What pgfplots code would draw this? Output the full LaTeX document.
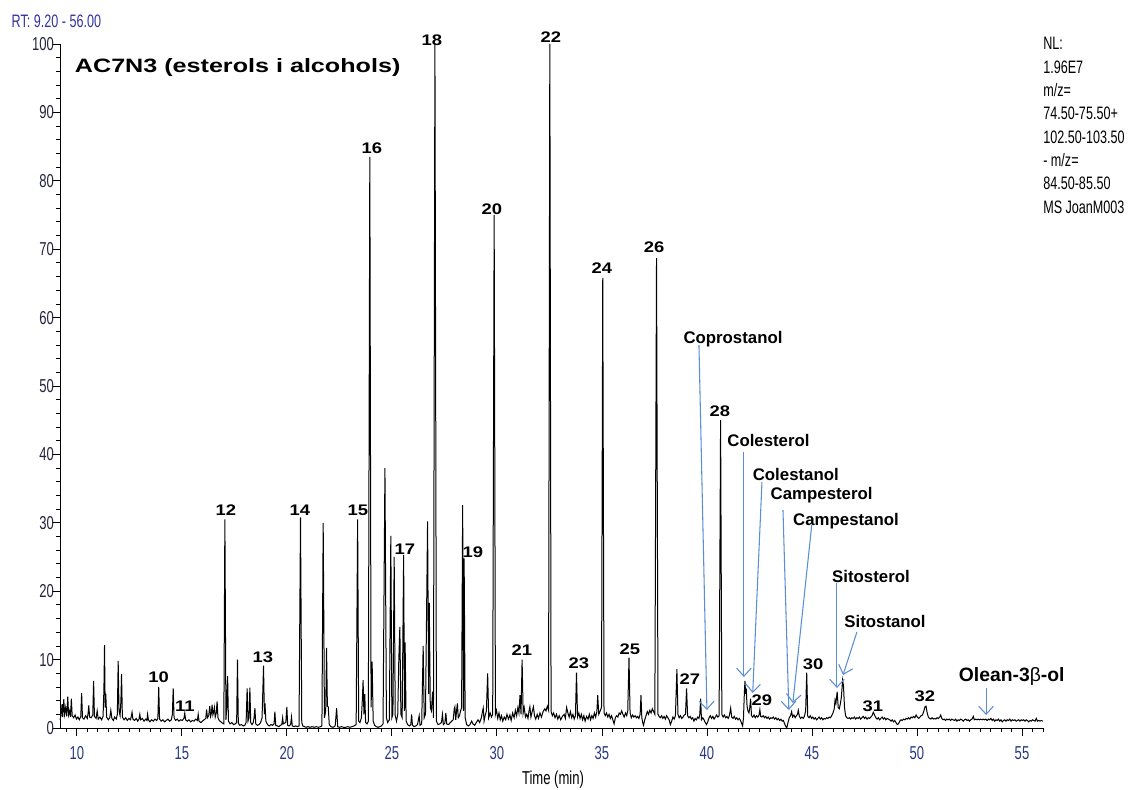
\documentclass[border=0pt]{standalone}
\usepackage{fontspec}
\setmainfont{Liberation Sans}
\newfontfamily\narrowf[FakeStretch=0.70]{Liberation Sans}
\newfontfamily\widef[FakeStretch=1.2]{Liberation Sans}
\newfontfamily\titlef[FakeStretch=1.3]{Liberation Sans}
\usepackage{pgfplots}
\pgfplotsset{compat=1.18}
\usetikzlibrary{arrows.meta}
\definecolor{arrowblue}{RGB}{91,142,214}
\definecolor{ticknavy}{RGB}{40,55,130}
\definecolor{rtblue}{RGB}{50,50,160}
\definecolor{ytk}{RGB}{35,35,60}
\newcommand\numf{\widef\bfseries\fontsize{11.5}{11.5}\selectfont}
\newcommand\namef{\bfseries\fontsize{12.6}{12.6}\selectfont}
\begin{document}
\begin{tikzpicture}[num/.style={font=\numf, inner sep=0pt}, nm/.style={font=\namef, inner sep=0pt}]
\useasboundingbox (-45pt,-45.75pt) rectangle (803.25pt,546pt);
\begin{axis}[scale only axis, width=737.25pt, height=513pt,
  xmin=9.2, xmax=56, ymin=0, ymax=100,
  axis x line*=bottom, axis y line*=left,
  axis line style={-, line width=0.75pt, black},
  xtick={10,15,...,55}, ytick={0,10,...,100},
  minor xtick={9.5,10,...,56}, minor ytick={0,2,...,100},
  tick align=outside, major tick length=6pt, minor tick length=3pt,
  tick style={black, line width=0.6pt},
  clip=false,
  /pgf/number format/assume math mode=true,
  xticklabel style={font=\narrowf\fontsize{14}{14}\selectfont, text=ticknavy, yshift=-4.5pt},
  yticklabel style={font=\narrowf\fontsize{14}{14}\selectfont, text=ytk, xshift=5pt},
]
\addplot[black, line width=0.75pt, mark=none] coordinates {
(9.20,1.2) (9.25,1.8) (9.30,3.5) (9.33,1.6) (9.38,4.2) (9.42,2.0) (9.47,3.0) (9.52,1.7) (9.57,4.6) (9.61,1.9) (9.66,2.5) (9.70,1.6) (9.74,4.3) (9.78,1.8) (9.85,1.5) (9.92,1.9) (9.98,1.3)
(10.05,1.6) (10.12,1.2) (10.19,1.7) (10.23,5.1) (10.27,1.5) (10.34,1.3) (10.42,1.8) (10.50,1.4) (10.54,2.2) (10.57,3.3) (10.61,1.6) (10.68,1.5) (10.76,1.9) (10.80,6.9) (10.84,1.7) (10.92,1.4) (10.97,2.5)
(11.02,1.3) (11.10,1.6) (11.18,1.2) (11.25,1.7) (11.29,5.5) (11.32,12.1) (11.35,3.0) (11.38,5.0) (11.42,1.6) (11.50,1.2) (11.57,1.5) (11.62,2.6) (11.67,1.4) (11.74,1.1) (11.80,1.6) (11.88,1.3) (11.93,2.0) (11.97,9.8)
(12.01,2.5) (12.06,1.8) (12.10,4.0) (12.13,7.9) (12.17,1.6) (12.25,1.2) (12.33,1.5) (12.40,1.1) (12.48,1.4) (12.56,1.2) (12.60,1.8) (12.63,2.3) (12.67,1.3) (12.75,1.1) (12.83,1.4) (12.90,1.0) (12.96,1.3)
(13.00,2.0) (13.04,1.2) (13.12,1.4) (13.20,1.0) (13.28,1.3) (13.34,1.1) (13.37,2.0) (13.41,1.2) (13.48,0.9) (13.56,1.2) (13.64,1.0) (13.72,1.3) (13.80,1.1) (13.86,1.4) (13.90,6.0) (13.94,1.3)
(14.02,1.0) (14.10,1.2) (14.18,0.9) (14.26,1.1) (14.34,1.3) (14.42,1.0) (14.50,1.2) (14.55,2.0) (14.59,5.8) (14.63,1.5) (14.70,1.1) (14.78,1.3) (14.86,1.0) (14.94,1.2)
(15.02,1.1) (15.10,1.4) (15.14,2.2) (15.18,1.2) (15.26,1.0) (15.34,1.2) (15.42,0.9) (15.50,1.1) (15.58,1.0) (15.66,1.3) (15.74,1.1) (15.78,2.0) (15.82,1.0) (15.90,0.8) (15.98,1.0)
(16.06,1.2) (16.14,1.4) (16.18,2.7) (16.22,1.5) (16.28,1.8) (16.33,3.2) (16.37,1.7) (16.41,2.2) (16.44,3.4) (16.48,1.9) (16.52,2.4) (16.55,3.0) (16.59,1.6) (16.64,2.2) (16.68,3.9) (16.72,1.5) (16.78,1.1) (16.86,0.9) (16.94,0.7)
(17.00,0.6) (17.05,30.5) (17.10,1.2) (17.14,3.0) (17.18,7.6) (17.22,1.0) (17.30,0.6) (17.38,0.8) (17.46,0.5) (17.54,0.6) (17.61,0.8) (17.65,10.0) (17.69,0.7) (17.76,0.4) (17.84,0.5) (17.92,0.3)
(18.00,0.4) (18.06,0.8) (18.11,5.8) (18.15,1.0) (18.20,1.5) (18.24,5.9) (18.28,0.8) (18.34,0.5) (18.40,0.8) (18.44,1.5) (18.48,2.9) (18.52,0.6) (18.60,0.4) (18.68,0.5) (18.75,0.8) (18.82,1.5) (18.89,9.1) (18.93,2.0) (18.96,3.6)
(19.00,1.0) (19.08,0.5) (19.16,0.3) (19.24,0.5) (19.32,0.4) (19.39,0.6) (19.43,2.4) (19.47,0.4) (19.55,0.3) (19.62,0.2) (19.70,0.4) (19.76,0.5) (19.80,1.5) (19.83,0.6) (19.88,0.7) (19.95,0.8)
(20.00,3.1) (20.04,0.4) (20.10,0.3) (20.18,0.5) (20.22,1.6) (20.26,0.3) (20.34,0.2) (20.42,0.3) (20.50,0.2) (20.58,0.3) (20.65,30.8) (20.71,0.8) (20.76,0.3) (20.84,0.2) (20.92,0.1)
(21.00,0.2) (21.10,0.1) (21.20,0.2) (21.30,0.1) (21.40,0.2) (21.50,0.1) (21.60,0.2) (21.67,0.3) (21.73,30.0) (21.79,1.5) (21.85,2.5) (21.89,11.7) (21.93,3.2) (21.97,3.1)
(22.02,0.5) (22.10,0.2) (22.20,0.1) (22.30,0.3) (22.37,2.9) (22.42,0.2) (22.50,0.1) (22.60,0.2) (22.70,0.1) (22.80,0.1) (22.90,0.2)
(23.00,0.1) (23.10,0.2) (23.20,0.3) (23.30,0.5) (23.37,30.5) (23.42,1.0) (23.48,0.8) (23.55,1.5) (23.60,4.5) (23.63,7.0) (23.67,2.0) (23.71,5.0) (23.75,0.8) (23.82,0.6) (23.88,1.0) (23.95,83.5)
(24.01,3.0) (24.06,9.7) (24.11,1.0) (24.18,0.4) (24.26,0.2) (24.34,0.1) (24.42,0.2) (24.50,0.3) (24.58,0.6) (24.67,38.0) (24.74,1.5) (24.80,0.8) (24.88,1.2) (24.95,28.1)
(25.00,1.5) (25.05,2.0) (25.11,25.0) (25.16,1.8) (25.22,1.0) (25.28,2.0) (25.33,10.0) (25.38,14.8) (25.43,2.0) (25.49,1.5) (25.56,25.3) (25.60,2.5) (25.63,12.5) (25.68,1.0) (25.75,0.5) (25.84,0.3) (25.90,0.5) (25.94,2.0) (25.98,0.4)
(26.06,0.2) (26.14,0.3) (26.22,0.5) (26.30,1.8) (26.34,0.4) (26.42,0.6) (26.49,12.0) (26.54,1.5) (26.60,2.0) (26.70,30.2) (26.75,5.0) (26.78,18.3) (26.83,3.0) (26.88,2.5) (26.94,5.3) (26.98,1.5)
(27.05,100) (27.12,1.0) (27.20,0.5) (27.28,0.6) (27.36,0.8) (27.41,2.0) (27.45,0.5) (27.52,0.7) (27.57,2.2) (27.61,0.6) (27.70,0.5) (27.78,0.8) (27.85,1.0) (27.92,1.2) (27.97,2.8)
(28.00,3.1) (28.04,1.2) (28.08,2.5) (28.12,3.6) (28.16,1.5) (28.22,1.8) (28.27,2.5) (28.32,3.0) (28.37,32.6) (28.41,2.5) (28.44,24.8) (28.49,1.5) (28.56,0.5) (28.64,0.3) (28.72,0.5) (28.80,1.0) (28.86,0.6) (28.94,0.4)
(29.02,0.8) (29.10,1.2) (29.18,0.8) (29.26,1.5) (29.30,2.2) (29.35,2.9) (29.39,1.0) (29.44,1.8) (29.50,2.5) (29.56,8.0) (29.61,1.5) (29.68,2.2) (29.74,1.6) (29.80,2.0) (29.87,75.0) (29.93,2.0) (29.98,2.6)
(30.04,1.4) (30.10,2.2) (30.16,1.2) (30.22,1.8) (30.28,1.0) (30.35,1.6) (30.42,1.2) (30.48,2.0) (30.55,1.3) (30.62,1.9) (30.68,1.1) (30.75,2.2) (30.82,1.5) (30.88,2.6) (30.94,1.8)
(31.00,3.0) (31.05,2.2) (31.10,4.8) (31.15,2.0) (31.20,10.0) (31.25,2.2) (31.30,3.0) (31.36,1.6) (31.42,2.0) (31.48,1.4) (31.53,2.5) (31.57,3.1) (31.62,1.6) (31.68,2.4) (31.74,3.1) (31.79,1.8) (31.85,1.3) (31.92,2.0) (31.98,1.4)
(32.05,2.2) (32.12,1.6) (32.20,2.4) (32.28,2.8) (32.34,2.5) (32.40,3.2) (32.46,2.6) (32.52,100) (32.58,2.4) (32.64,1.8) (32.70,2.2) (32.77,1.5) (32.84,2.0) (32.90,1.3) (32.97,1.8)
(33.04,1.2) (33.12,1.7) (33.20,2.0) (33.26,1.4) (33.32,3.0) (33.38,2.2) (33.44,1.6) (33.50,2.4) (33.56,1.5) (33.62,2.0) (33.68,1.3) (33.74,1.8) (33.79,8.1) (33.84,1.6) (33.90,2.2) (33.96,1.4)
(34.02,2.0) (34.08,1.2) (34.14,1.8) (34.20,1.0) (34.27,1.7) (34.34,1.3) (34.40,2.0) (34.46,1.2) (34.52,1.8) (34.58,1.4) (34.64,2.2) (34.70,1.6) (34.76,2.4) (34.80,4.8) (34.85,2.0) (34.92,2.5) (34.98,3.0)
(35.04,65.8) (35.10,2.2) (35.16,1.8) (35.22,2.2) (35.28,1.6) (35.34,2.0) (35.40,1.4) (35.46,1.8) (35.52,1.2) (35.58,0.6) (35.64,1.5) (35.70,1.8) (35.76,1.6) (35.82,2.2) (35.88,2.0) (35.94,2.5)
(36.00,2.0) (36.06,1.6) (36.12,2.2) (36.18,1.8) (36.23,2.5) (36.29,10.3) (36.34,2.2) (36.40,1.5) (36.46,1.9) (36.52,1.6) (36.58,1.8) (36.64,1.5) (36.70,1.7) (36.76,1.4) (36.82,2.0) (36.86,4.8) (36.90,1.5) (36.94,0.8) (36.98,0.4)
(37.04,1.2) (37.10,1.8) (37.16,2.4) (37.22,2.0) (37.28,2.6) (37.34,2.2) (37.40,2.8) (37.46,2.4) (37.52,2.0) (37.60,68.7) (37.67,2.0) (37.72,1.7) (37.78,1.5) (37.84,1.8) (37.90,1.4) (37.96,1.7)
(38.02,1.3) (38.08,1.8) (38.14,1.5) (38.20,1.2) (38.26,0.5) (38.32,1.0) (38.38,1.6) (38.44,1.3) (38.50,1.8) (38.57,8.6) (38.62,2.0) (38.68,1.5) (38.74,1.8) (38.80,1.4) (38.86,1.6) (38.92,1.9) (38.98,2.0)
(39.03,5.8) (39.08,1.8) (39.14,1.5) (39.20,1.7) (39.26,1.3) (39.32,1.5) (39.38,1.0) (39.44,1.4) (39.50,1.2) (39.56,1.6) (39.62,1.4) (39.66,2.0) (39.70,4.3) (39.74,1.2) (39.80,1.5) (39.86,1.2) (39.92,0.8) (39.98,0.5)
(40.04,0.9) (40.10,1.5) (40.16,1.8) (40.22,1.4) (40.28,1.7) (40.34,1.3) (40.40,1.6) (40.46,1.9) (40.52,1.6) (40.58,1.8) (40.65,45.0) (40.71,2.0) (40.77,1.6) (40.83,1.9) (40.89,1.5) (40.95,1.7)
(41.01,1.4) (41.07,1.8) (41.13,2.9) (41.18,1.6) (41.24,1.4) (41.30,1.7) (41.36,1.3) (41.42,1.5) (41.48,1.2) (41.54,1.4) (41.60,1.1) (41.66,0.6) (41.70,0.3) (41.74,1.5) (41.78,5.0) (41.81,6.9) (41.84,5.0) (41.87,5.8) (41.91,3.2) (41.95,2.5)
(42.00,2.2) (42.04,3.0) (42.08,4.3) (42.12,1.8) (42.18,1.6) (42.24,1.9) (42.30,1.5) (42.36,1.8) (42.42,1.6) (42.48,1.9) (42.52,2.7) (42.56,1.7) (42.62,1.6) (42.68,1.8) (42.74,1.5) (42.80,1.7) (42.86,1.4) (42.92,1.6) (42.98,1.3)
(43.04,1.5) (43.10,1.4) (43.16,1.6) (43.22,1.3) (43.28,1.5) (43.34,1.2) (43.40,1.4) (43.46,1.1) (43.52,1.3) (43.58,1.0) (43.64,1.1) (43.70,0.6) (43.76,0.2) (43.80,0.0) (43.86,0.8) (43.92,1.5) (43.98,1.8)
(44.03,2.4) (44.08,1.6) (44.14,1.9) (44.20,1.5) (44.26,1.8) (44.31,2.0) (44.35,2.6) (44.40,1.7) (44.46,1.4) (44.52,1.6) (44.58,1.4) (44.64,1.7) (44.70,2.5) (44.75,8.1) (44.80,1.7) (44.86,1.5) (44.92,1.8) (44.98,1.4)
(45.04,1.6) (45.10,1.3) (45.16,1.5) (45.22,1.2) (45.28,1.4) (45.34,1.6) (45.40,1.3) (45.46,1.5) (45.52,1.2) (45.58,1.4) (45.64,1.3) (45.70,1.5) (45.76,1.4) (45.82,1.6) (45.88,1.5) (45.94,1.8)
(46.00,2.2) (46.06,2.8) (46.10,4.1) (46.14,3.6) (46.20,5.3) (46.25,3.0) (46.30,2.8) (46.35,3.5) (46.40,4.5) (46.46,7.0) (46.50,6.2) (46.55,3.0) (46.60,1.8) (46.66,1.5) (46.72,1.4) (46.78,1.5) (46.84,1.3) (46.90,1.5) (46.96,1.4)
(47.02,1.6) (47.08,1.3) (47.14,1.5) (47.20,1.4) (47.26,1.6) (47.32,1.3) (47.38,1.5) (47.44,1.7) (47.50,1.4) (47.56,1.6) (47.62,1.3) (47.68,1.5) (47.74,1.4) (47.80,1.6) (47.86,1.8) (47.92,2.3) (47.98,1.9)
(48.04,1.5) (48.10,1.3) (48.16,1.5) (48.22,1.2) (48.28,1.4) (48.34,1.6) (48.40,1.3) (48.46,1.5) (48.52,1.2) (48.58,1.4) (48.64,1.3) (48.70,1.2) (48.76,1.0) (48.82,1.2) (48.88,0.9) (48.94,1.1)
(49.00,0.8) (49.06,0.5) (49.12,0.6) (49.18,1.0) (49.24,1.2) (49.30,1.1) (49.36,1.3) (49.42,1.2) (49.48,1.4) (49.54,1.3) (49.60,1.5) (49.66,1.3) (49.72,1.6) (49.78,1.5) (49.84,1.7) (49.90,1.5) (49.96,1.9)
(50.02,1.6) (50.08,1.4) (50.14,1.6) (50.20,1.8) (50.26,1.9) (50.32,2.4) (50.38,3.1) (50.43,3.2) (50.48,2.3) (50.54,1.6) (50.60,1.4) (50.66,1.3) (50.72,1.5) (50.78,1.3) (50.84,1.4) (50.90,1.3) (50.96,1.5)
(51.02,1.4) (51.08,1.6) (51.13,1.9) (51.18,1.4) (51.24,1.2) (51.30,1.3) (51.36,1.1) (51.42,1.3) (51.48,1.2) (51.54,1.3) (51.60,1.1) (51.66,1.3) (51.72,1.2) (51.78,1.1) (51.84,1.3) (51.90,1.0) (51.96,1.2)
(52.02,1.1) (52.08,1.3) (52.14,1.2) (52.20,1.0) (52.26,1.2) (52.32,1.3) (52.38,1.1) (52.44,1.2) (52.50,1.0) (52.56,1.2) (52.62,1.3) (52.68,1.7) (52.73,1.2) (52.80,1.3) (52.86,1.2) (52.92,1.3) (52.98,1.2)
(53.04,1.3) (53.10,1.2) (53.16,1.3) (53.22,1.2) (53.28,1.3) (53.34,1.1) (53.40,1.3) (53.46,1.2) (53.52,1.4) (53.58,1.1) (53.64,1.3) (53.70,1.0) (53.76,1.2) (53.82,1.1) (53.88,1.3) (53.94,1.0)
(54.00,1.2) (54.06,0.9) (54.12,1.1) (54.18,1.2) (54.24,1.0) (54.30,1.2) (54.36,1.1) (54.42,1.3) (54.48,1.0) (54.54,1.2) (54.60,1.1) (54.66,1.2) (54.72,1.0) (54.78,1.1) (54.84,1.2) (54.90,1.0) (54.96,1.2)
(55.02,1.1) (55.08,1.2) (55.14,1.0) (55.20,1.2) (55.26,1.1) (55.32,0.9) (55.38,1.1) (55.44,1.0) (55.50,1.2) (55.56,1.1) (55.62,1.0) (55.68,1.4) (55.74,1.0) (55.80,1.1) (55.86,1.0) (55.92,1.1) (56.00,1.0)
};
% peak numbers
\node[num] at (axis cs:13.90,7.46) {10};
\node[num] at (axis cs:15.14,3.22) {11};
\node[num] at (axis cs:17.10,31.87) {12};
\node[num] at (axis cs:18.86,10.38) {13};
\node[num] at (axis cs:20.62,31.87) {14};
\node[num] at (axis cs:23.38,31.87) {15};
\node[num] at (axis cs:24.05,84.8) {16};
\node[num] at (axis cs:25.62,26.17) {17};
\node[num] at (axis cs:26.90,100.6) {18};
\node[num] at (axis cs:28.86,25.7) {19};
\node[num] at (axis cs:29.76,75.9) {20};
\node[num] at (axis cs:31.19,11.4) {21};
\node[num] at (axis cs:32.57,101) {22};
\node[num] at (axis cs:33.90,9.5) {23};
\node[num] at (axis cs:35.0,67.25) {24};
\node[num] at (axis cs:36.33,11.55) {25};
\node[num] at (axis cs:37.48,70.3) {26};
\node[num] at (axis cs:39.19,7.16) {27};
\node[num] at (axis cs:40.62,46.35) {28};
\node[num] at (axis cs:42.62,4.09) {29};
\node[num] at (axis cs:45.05,9.36) {30};
\node[num] at (axis cs:47.90,3.2) {31};
\node[num] at (axis cs:50.38,4.68) {32};
% compound names
\node[nm] at (axis cs:41.24,56.87) {Coprostanol};
\node[nm] at (axis cs:42.93,42.1) {Colesterol};
\node[nm] at (axis cs:44.23,37.13) {Colestanol};
\node[nm] at (axis cs:45.46,34.06) {Campesterol};
\node[nm] at (axis cs:46.62,30.26) {Campestanol};
\node[nm] at (axis cs:47.81,22.2) {Sitosterol};
\node[nm] at (axis cs:48.48,15.54) {Sitostanol};
\node[font=\bfseries\fontsize{14.5}{14.5}\selectfont, inner sep=0pt] at (axis cs:54.51,7.5) {Olean-3{\mdseries β}-ol};
% arrows
\begin{scope}[arrowblue, line width=0.8pt, -{Straight Barb[length=6pt,width=11pt]}]
\draw (axis cs:39.62,55.99) -- (axis cs:40.0,2.63);
\draw (axis cs:41.76,40.35) -- (axis cs:41.76,7.46);
\draw (axis cs:42.62,35.96) -- (axis cs:42.18,5.12);
\draw (axis cs:43.62,31.87) -- (axis cs:43.90,2.63);
\draw (axis cs:44.99,29.68) -- (axis cs:44.09,3.65);
\draw (axis cs:46.19,21.2) -- (axis cs:46.19,5.85);
\draw (axis cs:47.14,14.04) -- (axis cs:46.48,7.75);
\draw (axis cs:53.29,5.85) -- (axis cs:53.29,1.9);
\end{scope}
% title and info texts
\node[anchor=west, inner sep=0pt, font=\titlef\bfseries\fontsize{14.5}{14.5}\selectfont] at (axis cs:9.90,96.5) {AC7N3 (esterols i alcohols)};
\node[anchor=west, inner sep=0pt, text=rtblue, font=\narrowf\fontsize{13.5}{13.5}\selectfont] at (axis cs:6.89,103.26) {RT: 9.20 - 56.00};
\node[anchor=north west, align=left, inner sep=0pt, font=\narrowf\fontsize{13.5}{17.5}\selectfont] at (axis cs:56.0,101.0) {NL:\\1.96E7\\m/z=\\74.50-75.50+\\102.50-103.50\\- m/z=\\84.50-85.50\\MS JoanM003};
\node[inner sep=0pt, font=\narrowf\fontsize{14}{14}\selectfont] at (axis cs:32.67,-7.6) {Time (min)};
\end{axis}
\end{tikzpicture}
\end{document}
